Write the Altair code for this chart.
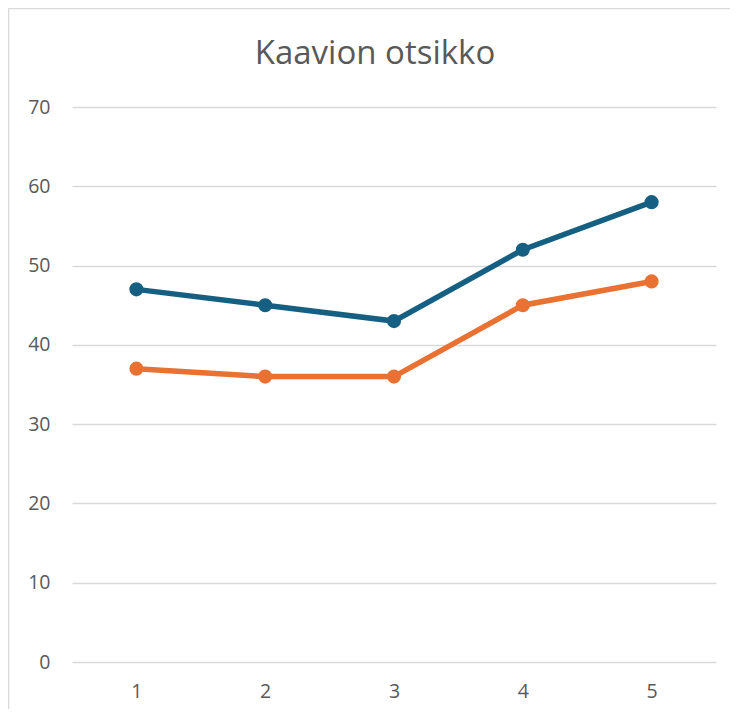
import altair as alt
import pandas as pd

categories = ["1", "2", "3", "4", "5"]
series_names = ["Sarja1", "Sarja2"]
sarja1 = [47, 45, 43, 52, 58]
sarja2 = [37, 36, 36, 45, 48]
colors = ["#156082", "#E97132"]
chart_title = "Kaavion otsikko"

rows = []
for name, vals in zip(series_names, [sarja1, sarja2]):
    for c, v in zip(categories, vals):
        rows.append({"cat": c, "sarja": name, "arvo": v})
df = pd.DataFrame(rows)

TEXT = "#595959"
FONT = "Open Sans"

x = alt.X("cat:O", sort=categories,
          scale=alt.Scale(type="point", padding=0.5),
          axis=alt.Axis(title=None, labelAngle=0, ticks=False, domain=False, grid=False,
                        labelFontSize=19.5, labelColor=TEXT, labelFont=FONT, labelPadding=20))
y = alt.Y("arvo:Q", scale=alt.Scale(domain=[0, 70]),
          axis=alt.Axis(title=None, values=[0, 10, 20, 30, 40, 50, 60, 70], ticks=False,
                        domain=False, gridColor="#D9D9D9", gridWidth=1.3,
                        labelFontSize=19.5, labelColor=TEXT, labelFont=FONT, labelPadding=22))
color = alt.Color("sarja:N", scale=alt.Scale(domain=series_names, range=colors), legend=None)

one = pd.DataFrame({"t": [chart_title]})

border = alt.Chart(one).mark_rect(
    fill="white", fillOpacity=0, stroke="#D9D9D9", strokeWidth=1.5, clip=False
).encode(x=alt.value(-63.5), x2=alt.value(760), y=alt.value(-98.5), y2=alt.value(760))

title = alt.Chart(one).mark_text(
    font=FONT, fontSize=33, color=TEXT, align="center", baseline="alphabetic"
).encode(text="t:N", x=alt.value(303), y=alt.value(-43))

lines = alt.Chart(df).mark_line(strokeWidth=5.5).encode(x=x, y=y, color=color, detail="sarja:N")
points = alt.Chart(df).mark_circle(size=200, opacity=1).encode(x=x, y=y, color=color)

chart = alt.layer(border, title, lines, points).properties(
    width=644, height=555,
    autosize=alt.AutoSizeParams(type="none"),
    padding={"left": 64, "top": 99, "right": 14, "bottom": 47},
).configure(background="white").configure_view(stroke=None)

chart.save("out.html", embed_options={"renderer": "svg", "actions": False})
